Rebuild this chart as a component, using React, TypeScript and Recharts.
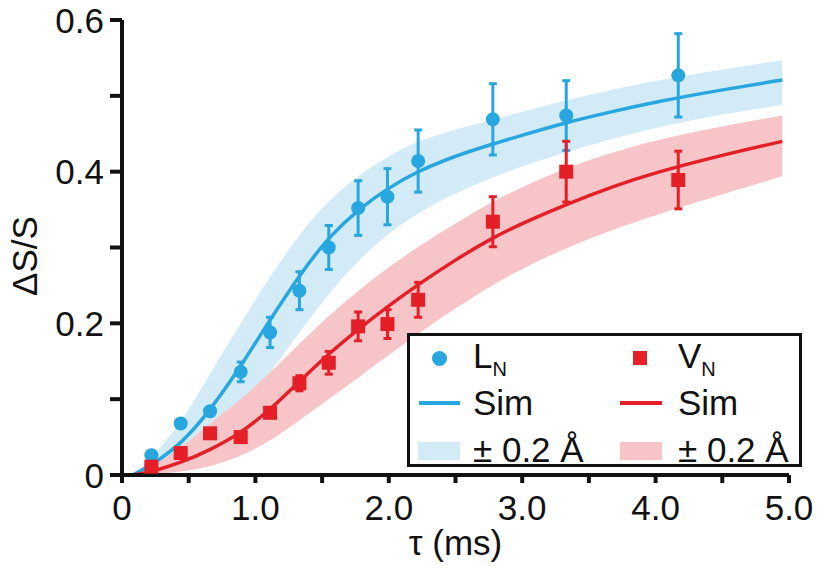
import { Area, ComposedChart, ErrorBar, Legend, Line, Scatter, XAxis, YAxis } from "recharts";

const BLUE = "#27a6df";
const RED = "#e51f27";
const BLUE_BAND = "#d3ebf7";
const RED_BAND = "#f7c5c8";
const FONT = "'Liberation Sans', Arial, Helvetica, sans-serif";

// simulated curves and ±0.2 Å bands
const curveX = [0.08, 0.22, 0.44, 0.66, 0.89, 1.11, 1.34, 1.55, 1.77, 1.99, 2.21, 2.5, 2.77, 3.0, 3.33, 3.67, 4.0, 4.5, 4.95];
const blueSim = [0, 0.013, 0.04, 0.085, 0.143, 0.205, 0.266, 0.314, 0.35, 0.378, 0.4, 0.421, 0.436, 0.448, 0.465, 0.479, 0.492, 0.508, 0.521];
const blueLow = [0, 0.003, 0.011, 0.037, 0.082, 0.135, 0.19, 0.24, 0.283, 0.318, 0.345, 0.372, 0.392, 0.407, 0.426, 0.443, 0.458, 0.476, 0.488];
const blueHigh = [0, 0.022, 0.068, 0.134, 0.2, 0.262, 0.32, 0.362, 0.395, 0.42, 0.44, 0.456, 0.468, 0.479, 0.494, 0.508, 0.52, 0.535, 0.547];
const redSim = [0, 0.004, 0.016, 0.033, 0.055, 0.086, 0.125, 0.16, 0.192, 0.222, 0.25, 0.284, 0.312, 0.332, 0.357, 0.38, 0.399, 0.422, 0.44];
const redLow = [0, 0, 0.004, 0.011, 0.024, 0.045, 0.073, 0.1, 0.128, 0.157, 0.185, 0.22, 0.25, 0.272, 0.3, 0.323, 0.343, 0.37, 0.394];
const redHigh = [0, 0.01, 0.035, 0.069, 0.099, 0.135, 0.175, 0.21, 0.243, 0.273, 0.3, 0.332, 0.36, 0.38, 0.405, 0.425, 0.442, 0.46, 0.474];

// measured points
const tau = [0.22, 0.44, 0.66, 0.89, 1.11, 1.33, 1.55, 1.77, 1.99, 2.22, 2.78, 3.33, 4.17];
const lnVals = [0.026, 0.068, 0.084, 0.136, 0.188, 0.243, 0.3, 0.352, 0.367, 0.414, 0.469, 0.474, 0.527];
const lnErr = [0, 0, 0, 0.013, 0.02, 0.025, 0.029, 0.036, 0.037, 0.041, 0.047, 0.046, 0.055];
const vnVals = [0.011, 0.029, 0.055, 0.05, 0.082, 0.121, 0.148, 0.196, 0.199, 0.231, 0.334, 0.4, 0.389];
const vnErr = [0, 0, 0, 0, 0, 0.01, 0.015, 0.019, 0.019, 0.023, 0.033, 0.04, 0.038];

const xTicks = [0, 0.5, 1, 1.5, 2, 2.5, 3, 3.5, 4, 4.5, 5];
const yTicks = [0, 0.1, 0.2, 0.3, 0.4, 0.5, 0.6];

const curveRows = curveX.map((x, i) => ({
  x,
  blue: blueSim[i],
  blueBand: [blueLow[i], blueHigh[i]],
  red: redSim[i],
  redBand: [redLow[i], redHigh[i]],
}));
const lnRows = tau.map((x, i) => ({ x, y: lnVals[i], err: lnErr[i] }));
const vnRows = tau.map((x, i) => ({ x, y: vnVals[i], err: vnErr[i] }));

function XTick(props: any) {
  const v = props.payload.value;
  if (v % 1 !== 0) return null;
  return (
    <text x={props.x} y={props.y + 35} textAnchor="middle" fontSize={35} fontFamily={FONT} fill="#111">
      {v === 0 ? "0" : v.toFixed(1)}
    </text>
  );
}

function YTick(props: any) {
  const v = props.payload.value;
  const idx = Math.round(v * 10);
  if (idx % 2 !== 0) return null;
  return (
    <text x={props.x} y={props.y + 12.5} textAnchor="end" fontSize={35} fontFamily={FONT} fill="#111">
      {idx === 0 ? "0" : v.toFixed(1)}
    </text>
  );
}

const Circle = (p: any) => <circle cx={p.cx} cy={p.cy} r={7} fill={BLUE} />;
const Square = (p: any) => <rect x={p.cx - 7} y={p.cy - 7} width={14} height={14} fill={RED} />;

const txt = { fontFamily: FONT, fontSize: 35, color: "#111", lineHeight: "35px", whiteSpace: "nowrap" as const };

function LegendBox() {
  const cell = (left: number, top: number, child: any) => (
    <div style={{ position: "absolute", left, top }}>{child}</div>
  );
  return (
    <div style={{ position: "relative", width: 389, height: 128, border: "3px solid #111", background: "#fff" }}>
      {cell(22, 15, <div style={{ width: 15, height: 15, borderRadius: 8, background: BLUE }} />)}
      {cell(223, 15, <div style={{ width: 14, height: 14, background: RED }} />)}
      {cell(9, 65, <div style={{ width: 41, height: 4, background: BLUE }} />)}
      {cell(210, 65, <div style={{ width: 42, height: 4, background: RED }} />)}
      {cell(8, 106, <div style={{ width: 42, height: 18, background: BLUE_BAND }} />)}
      {cell(210, 106, <div style={{ width: 42, height: 18, background: RED_BAND }} />)}
      {cell(63, 2, <span style={txt}>L<sub style={{ fontSize: 20, verticalAlign: "-8px" }}>N</sub></span>)}
      {cell(268, 2, <span style={txt}>V<sub style={{ fontSize: 20, verticalAlign: "-8px" }}>N</sub></span>)}
      {cell(63, 49, <span style={txt}>Sim</span>)}
      {cell(268, 49, <span style={txt}>Sim</span>)}
      {cell(63, 96, <span style={txt}>± 0.2 Å</span>)}
      {cell(268, 96, <span style={txt}>± 0.2 Å</span>)}
    </div>
  );
}

export default function App() {
  return (
    <div style={{ position: "absolute", left: 0, top: 0, width: 825, height: 575, background: "#fff" }}>
      <ComposedChart width={825} height={575} data={curveRows} margin={{ top: 20, right: 36, bottom: 10, left: 0 }}>
        <XAxis
          type="number"
          dataKey="x"
          domain={[0, 5]}
          ticks={xTicks}
          interval={0}
          allowDataOverflow
          height={90}
          tickSize={8}
          tickMargin={2}
          tick={<XTick />}
          axisLine={{ stroke: "#111", strokeWidth: 4 }}
          tickLine={{ stroke: "#111", strokeWidth: 4 }}
          label={{ value: "τ (ms)", position: "insideBottom", offset: 10, fontSize: 35, fontFamily: FONT, fill: "#111" }}
        />
        <YAxis
          type="number"
          domain={[0, 0.6]}
          ticks={yTicks}
          interval={0}
          allowDataOverflow
          width={122}
          tickSize={12}
          tickMargin={6}
          tick={<YTick />}
          axisLine={{ stroke: "#111", strokeWidth: 4 }}
          tickLine={{ stroke: "#111", strokeWidth: 4 }}
          label={{
            content: () => (
              <text x={37} y={256} transform="rotate(-90 37 256)" textAnchor="middle" fontSize={35} fontFamily={FONT} fill="#111">
                ΔS/S
              </text>
            ),
          }}
        />
        <Area type="basis" dataKey="blueBand" stroke="none" fill={BLUE_BAND} fillOpacity={1} isAnimationActive={false} />
        <Area type="basis" dataKey="redBand" stroke="none" fill={RED_BAND} fillOpacity={1} isAnimationActive={false} />
        <Line type="basis" dataKey="blue" stroke={BLUE} strokeWidth={3.5} dot={false} isAnimationActive={false} />
        <Line type="basis" dataKey="red" stroke={RED} strokeWidth={3.5} dot={false} isAnimationActive={false} />
        <Scatter data={lnRows} dataKey="y" shape={Circle} isAnimationActive={false}>
          <ErrorBar dataKey="err" direction="y" width={4} strokeWidth={3} stroke={BLUE} />
        </Scatter>
        <Scatter data={vnRows} dataKey="y" shape={Square} isAnimationActive={false}>
          <ErrorBar dataKey="err" direction="y" width={4} strokeWidth={3} stroke={RED} />
        </Scatter>
        <Legend
          layout="horizontal"
          verticalAlign="middle"
          align="center"
          content={() => <LegendBox />}
          wrapperStyle={{ position: "absolute", left: 407, top: 333, width: 395, height: 134 }}
        />
      </ComposedChart>
    </div>
  );
}
